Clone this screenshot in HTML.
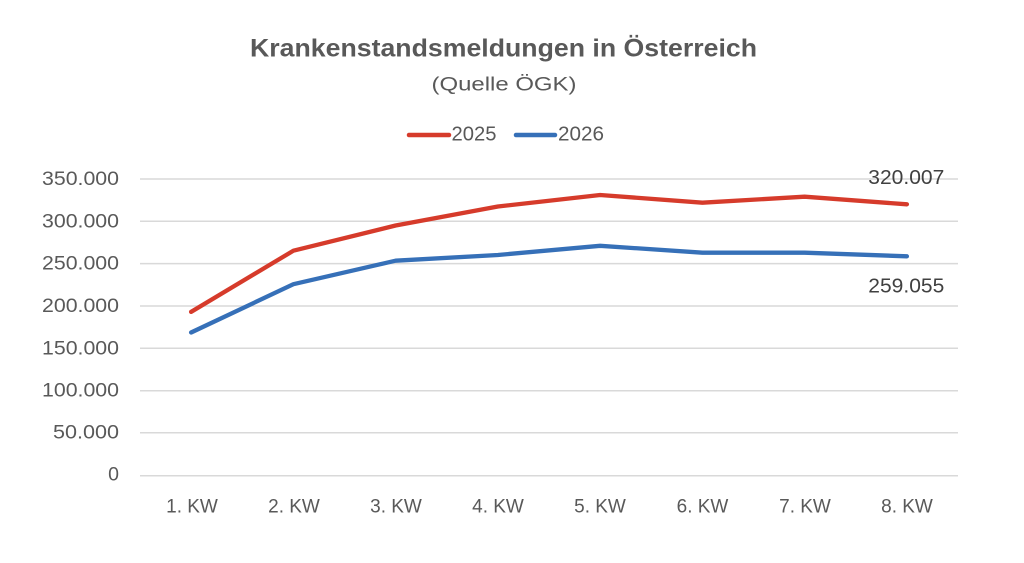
<!DOCTYPE html>
<html>
<head>
<meta charset="utf-8">
<style>
html,body{margin:0;padding:0;background:#fff;}
svg{display:block;}
text{font-family:"Liberation Sans",sans-serif;}
</style>
</head>
<body>
<svg width="1024" height="563" viewBox="0 0 1024 563" xmlns="http://www.w3.org/2000/svg">
<rect width="1024" height="563" fill="#fff"/>
<!-- Title -->
<text x="250" y="56.7" font-size="25" font-weight="bold" fill="#595959" textLength="507" lengthAdjust="spacingAndGlyphs">Krankenstandsmeldungen in Österreich</text>
<text x="431.5" y="90.7" font-size="19.5" fill="#595959" textLength="145" lengthAdjust="spacingAndGlyphs">(Quelle ÖGK)</text>
<!-- Legend -->
<line x1="409" y1="135" x2="449" y2="135" stroke="#D63B2B" stroke-width="4.5" stroke-linecap="round"/>
<text x="451.5" y="140.5" font-size="20" fill="#595959" textLength="45" lengthAdjust="spacingAndGlyphs">2025</text>
<line x1="516" y1="135" x2="555" y2="135" stroke="#3670B8" stroke-width="4.5" stroke-linecap="round"/>
<text x="558" y="140.5" font-size="20" fill="#595959" textLength="46" lengthAdjust="spacingAndGlyphs">2026</text>
<!-- Grid -->
<g stroke="#d9d9d9" stroke-width="1.5">
<line x1="140" y1="179" x2="958" y2="179"/>
<line x1="140" y1="221.3" x2="958" y2="221.3"/>
<line x1="140" y1="263.6" x2="958" y2="263.6"/>
<line x1="140" y1="306" x2="958" y2="306"/>
<line x1="140" y1="348.3" x2="958" y2="348.3"/>
<line x1="140" y1="390.7" x2="958" y2="390.7"/>
<line x1="140" y1="432.7" x2="958" y2="432.7"/>
<line x1="140" y1="475.7" x2="958" y2="475.7"/>
</g>
<!-- Y labels -->
<g font-size="19.5" fill="#595959" text-anchor="end">
<text x="119" y="185" textLength="77" lengthAdjust="spacingAndGlyphs">350.000</text>
<text x="119" y="227.3" textLength="77" lengthAdjust="spacingAndGlyphs">300.000</text>
<text x="119" y="269.6" textLength="77" lengthAdjust="spacingAndGlyphs">250.000</text>
<text x="119" y="312" textLength="77" lengthAdjust="spacingAndGlyphs">200.000</text>
<text x="119" y="354.3" textLength="77" lengthAdjust="spacingAndGlyphs">150.000</text>
<text x="119" y="396.7" textLength="77" lengthAdjust="spacingAndGlyphs">100.000</text>
<text x="119" y="438.7" textLength="66" lengthAdjust="spacingAndGlyphs">50.000</text>
<text x="119" y="480.5">0</text>
</g>
<!-- X labels -->
<g font-size="19" fill="#595959" text-anchor="middle">
<text x="192" y="512.7">1. KW</text>
<text x="294" y="512.7">2. KW</text>
<text x="396" y="512.7">3. KW</text>
<text x="498" y="512.7">4. KW</text>
<text x="600" y="512.7">5. KW</text>
<text x="702.5" y="512.7">6. KW</text>
<text x="805" y="512.7">7. KW</text>
<text x="907" y="512.7">8. KW</text>
</g>
<!-- Series -->
<polyline fill="none" stroke="#D63B2B" stroke-width="4.3" stroke-linejoin="round" stroke-linecap="round"
 points="191.1,311.9 293.4,250.7 395.6,225.5 497.9,206.5 600.1,195 702.4,202.7 804.6,196.7 906.9,204.3"/>
<polyline fill="none" stroke="#3670B8" stroke-width="4.3" stroke-linejoin="round" stroke-linecap="round"
 points="191.1,332.5 293.4,284.2 395.6,260.7 497.9,255 600.1,245.8 702.4,252.7 804.6,252.7 906.9,256.3"/>
<!-- Data labels -->
<text x="868.3" y="184" font-size="20" fill="#404040" textLength="76" lengthAdjust="spacingAndGlyphs">320.007</text>
<text x="868.3" y="292.3" font-size="20" fill="#404040" textLength="76" lengthAdjust="spacingAndGlyphs">259.055</text>
</svg>
</body>
</html>
